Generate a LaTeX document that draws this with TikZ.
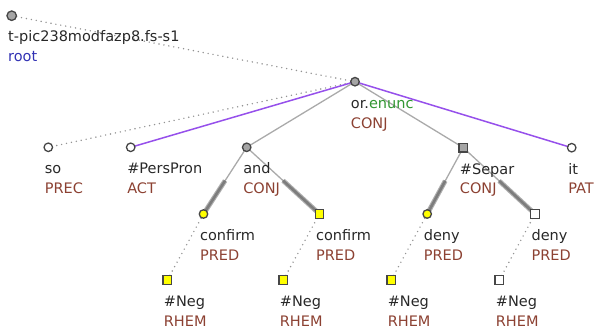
\documentclass[tikz,border=0pt]{standalone}
\usepackage{fontspec}
\setmainfont{DejaVu Sans}
\usetikzlibrary{calc,backgrounds}
\definecolor{fun}{RGB}{140,65,50}
\definecolor{pur}{RGB}{150,80,235}
\definecolor{grn}{RGB}{50,150,50}
\definecolor{blu}{RGB}{50,50,180}
\definecolor{txt}{RGB}{40,40,40}
\definecolor{ndline}{RGB}{70,70,70}
\definecolor{ndgray}{RGB}{165,165,165}
\definecolor{ndyel}{RGB}{255,255,0}
\definecolor{edgray}{RGB}{170,170,170}
\definecolor{thkout}{RGB}{175,175,175}
\definecolor{thkin}{RGB}{125,125,125}
\begin{document}
\begin{tikzpicture}[x=1pt,y=-1pt,
  nd/.style={draw=ndline, line width=1.3pt, inner sep=0pt},
  cir/.style={nd,circle,minimum size=8.5pt},
  sqr/.style={nd,rectangle,minimum size=8.5pt},
  lab/.style={anchor=base west, inner sep=0pt, font=\fontsize{14.5}{17}\selectfont, text=txt},
  fn/.style={lab, text=fun},
  dotedge/.style={draw=gray!85, line width=1.6pt, line cap=round, dash pattern=on 0pt off 5pt},
  thinedge/.style={draw=edgray, line width=1.3pt},
  puredge/.style={draw=pur, line width=1.5pt},
  thickout/.style={draw=thkout, line width=4.8pt},
  thickin/.style={draw=thkin, line width=2.6pt}]
\useasboundingbox (0,0) rectangle (600,329);

% nodes
\node[cir, fill=ndgray, minimum size=9.5pt] (root) at (11.7,15.7) {};
\node[cir, fill=ndgray] (or) at (355,81.7) {};
\node[cir, fill=white] (so) at (48.3,147.3) {};
\node[cir, fill=white] (pers) at (130.7,147.3) {};
\node[cir, fill=ndgray] (and) at (246.7,147.3) {};
\node[sqr, fill=ndgray] (separ) at (463.3,147.7) {};
\node[cir, fill=white] (it) at (571.7,147.7) {};
\node[cir, fill=ndyel] (conf1) at (203.5,214) {};
\node[sqr, fill=ndyel] (conf2) at (319.5,214) {};
\node[cir, fill=ndyel] (deny1) at (427.2,214) {};
\node[sqr, fill=white] (deny2) at (535,214) {};
\node[sqr, fill=ndyel] (neg1) at (167.3,280) {};
\node[sqr, fill=ndyel] (neg2) at (283.3,280) {};
\node[sqr, fill=ndyel] (neg3) at (391.2,280) {};
\node[sqr, fill=white] (neg4) at (499.3,280) {};

% labels
\node[lab] (l-root) at ($(root)+(-3.7,26)$) {t-pic238modfazp8.fs-s1};
\node[lab, text=blu] (f-root) at ($(root)+(-3.7,46)$) {root};
\node[lab] (l-or) at ($(or)+(-4.3,27)$) {or.\textcolor{grn}{enunc}};
\node[fn] (f-or) at ($(or)+(-4.3,46.5)$) {CONJ};
\foreach \n/\a/\b in {so/so/PREC, pers/\#PersPron/ACT, and/and/CONJ, separ/\#Separ/CONJ, it/it/PAT,
  conf1/confirm/PRED, conf2/confirm/PRED, deny1/deny/PRED, deny2/deny/PRED,
  neg1/\#Neg/RHEM, neg2/\#Neg/RHEM, neg3/\#Neg/RHEM, neg4/\#Neg/RHEM}{
  \node[lab] (l-\n) at ($(\n)+(-3.6,26.5)$) {\a};
  \node[fn] (f-\n) at ($(\n)+(-3.6,46)$) {\b};
}

% edges
\begin{scope}[on background layer]
  \draw[dotedge] (root.center) -- (or.center);
  \draw[dotedge] (or.center) -- (so.center);
  \draw[puredge] (or.center) -- (pers.center);
  \draw[puredge] (or.center) -- (it.center);
  \draw[thinedge] (or.center) -- (and.center);
  \draw[thinedge] (or.center) -- (separ.center);
  \foreach \p/\c in {and/conf1, and/conf2, separ/deny1, separ/deny2}{
    \coordinate (m-\c) at ($(\p.center)!0.5!(\c.center)$);
    \draw[thinedge] (\p.center) -- (m-\c);
    \draw[thickout] (m-\c) -- (\c.center);
    \draw[thickin] (m-\c) -- (\c.center);
  }
  \draw[dotedge] (conf1.center) -- (neg1.center);
  \draw[dotedge] (conf2.center) -- (neg2.center);
  \draw[dotedge] (deny1.center) -- (neg3.center);
  \draw[dotedge] (deny2.center) -- (neg4.center);
\end{scope}
\end{tikzpicture}
\end{document}
